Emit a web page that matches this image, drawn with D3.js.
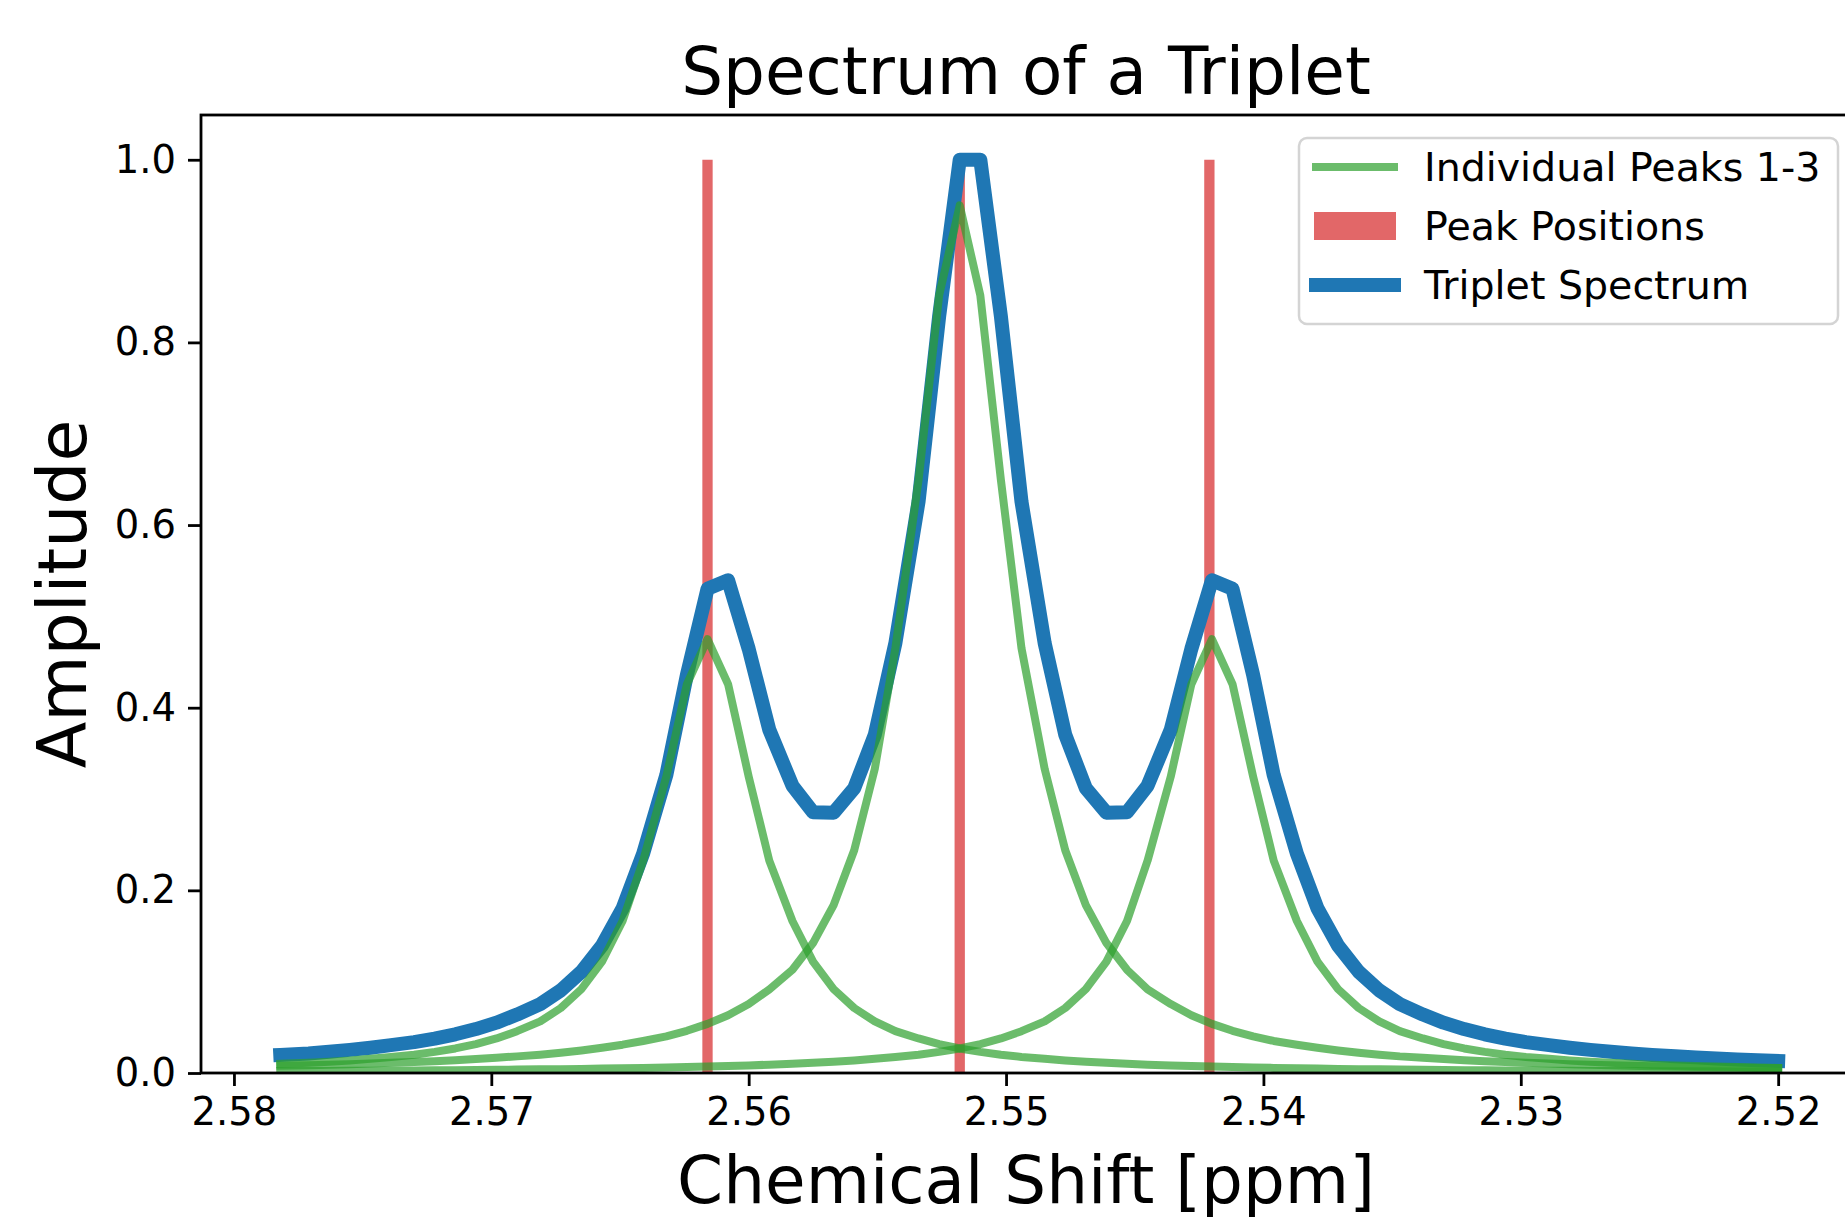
<!DOCTYPE html>
<html>
<head>
<meta charset="utf-8">
<script src="https://cdn.jsdelivr.net/npm/d3@7"></script>
<style>
  html, body { margin: 0; padding: 0; background: #fff; }
  svg { display: block; font-family: "DejaVu Sans", sans-serif; }
</style>
</head>
<body>
<svg id="chart" width="1845" height="1224"></svg>
<script>
// ---------------- data ----------------
const shiftPpm = [2.5782, 2.5771, 2.5763, 2.5755, 2.5747, 2.5739, 2.5730, 2.5722, 2.5714, 2.5706, 2.5698, 2.5690, 2.5681, 2.5673, 2.5665, 2.5657, 2.5649, 2.5641, 2.5632, 2.5624, 2.5616, 2.5608, 2.5600, 2.5592, 2.5583, 2.5575, 2.5567, 2.5559, 2.5551, 2.5543, 2.5534, 2.5526, 2.5518, 2.5510, 2.5502, 2.5494, 2.5485, 2.5477, 2.5469, 2.5461, 2.5453, 2.5445, 2.5436, 2.5428, 2.5420, 2.5412, 2.5404, 2.5396, 2.5387, 2.5379, 2.5371, 2.5363, 2.5355, 2.5347, 2.5338, 2.5330, 2.5322, 2.5314, 2.5306, 2.5298, 2.5289, 2.5281, 2.5273, 2.5265, 2.5257, 2.5249, 2.5240, 2.5232, 2.5224, 2.5216, 2.5208, 2.5200];

const peak1 = [0.0100, 0.0111, 0.0123, 0.0138, 0.0155, 0.0176, 0.0200, 0.0231, 0.0269, 0.0316, 0.0378, 0.0458, 0.0565, 0.0712, 0.0919, 0.1220, 0.1665, 0.2326, 0.3246, 0.4257, 0.4750, 0.4257, 0.3246, 0.2326, 0.1665, 0.1220, 0.0919, 0.0712, 0.0565, 0.0458, 0.0378, 0.0316, 0.0269, 0.0231, 0.0200, 0.0176, 0.0155, 0.0138, 0.0123, 0.0111, 0.0100, 0.0091, 0.0083, 0.0076, 0.0070, 0.0065, 0.0060, 0.0056, 0.0052, 0.0048, 0.0045, 0.0042, 0.0040, 0.0037, 0.0035, 0.0033, 0.0031, 0.0030, 0.0028, 0.0027, 0.0026, 0.0024, 0.0023, 0.0022, 0.0021, 0.0020, 0.0019, 0.0018, 0.0018, 0.0017, 0.0016, 0.0016];

const peak2 = [0.0079, 0.0085, 0.0090, 0.0097, 0.0104, 0.0111, 0.0120, 0.0129, 0.0140, 0.0153, 0.0167, 0.0182, 0.0201, 0.0222, 0.0247, 0.0276, 0.0310, 0.0351, 0.0401, 0.0462, 0.0538, 0.0633, 0.0755, 0.0915, 0.1130, 0.1423, 0.1838, 0.2439, 0.3330, 0.4652, 0.6493, 0.8514, 0.9500, 0.8514, 0.6493, 0.4652, 0.3330, 0.2439, 0.1838, 0.1423, 0.1130, 0.0915, 0.0755, 0.0633, 0.0538, 0.0462, 0.0401, 0.0351, 0.0310, 0.0276, 0.0247, 0.0222, 0.0201, 0.0182, 0.0167, 0.0153, 0.0140, 0.0129, 0.0120, 0.0111, 0.0104, 0.0097, 0.0090, 0.0085, 0.0079, 0.0075, 0.0070, 0.0067, 0.0063, 0.0060, 0.0056, 0.0054];

const peak3 = [0.0021, 0.0022, 0.0023, 0.0024, 0.0026, 0.0027, 0.0028, 0.0030, 0.0031, 0.0033, 0.0035, 0.0037, 0.0040, 0.0042, 0.0045, 0.0048, 0.0052, 0.0056, 0.0060, 0.0065, 0.0070, 0.0076, 0.0083, 0.0091, 0.0100, 0.0111, 0.0123, 0.0138, 0.0155, 0.0176, 0.0200, 0.0231, 0.0269, 0.0316, 0.0378, 0.0458, 0.0565, 0.0712, 0.0919, 0.1220, 0.1665, 0.2326, 0.3246, 0.4257, 0.4750, 0.4257, 0.3246, 0.2326, 0.1665, 0.1220, 0.0919, 0.0712, 0.0565, 0.0458, 0.0378, 0.0316, 0.0269, 0.0231, 0.0200, 0.0176, 0.0155, 0.0138, 0.0123, 0.0111, 0.0100, 0.0091, 0.0083, 0.0076, 0.0070, 0.0065, 0.0060, 0.0056];

// blue spectrum (normalised, drawn on the same ppm grid; its peaks sit a little right of the green ones)
const triplet = [0.0198, 0.0214, 0.0232, 0.0253, 0.0277, 0.0305, 0.0338, 0.0377, 0.0424, 0.0481, 0.0551, 0.0640, 0.0754, 0.0905, 0.1109, 0.1394, 0.1803, 0.2402, 0.3262, 0.4359, 0.5302, 0.5395, 0.4644, 0.3758, 0.3146, 0.2855, 0.2849, 0.3117, 0.3703, 0.4707, 0.6256, 0.8285, 1.0000, 1.0000, 0.8285, 0.6256, 0.4707, 0.3703, 0.3117, 0.2849, 0.2855, 0.3146, 0.3758, 0.4644, 0.5395, 0.5302, 0.4359, 0.3262, 0.2402, 0.1803, 0.1394, 0.1109, 0.0905, 0.0754, 0.0640, 0.0551, 0.0481, 0.0424, 0.0377, 0.0338, 0.0305, 0.0277, 0.0253, 0.0232, 0.0214, 0.0198, 0.0184, 0.0171, 0.0160, 0.0149, 0.0140, 0.0132];

const peakPositions = [2.5616, 2.5518, 2.5421];
const peakHeights = [1.0, 1.0, 1.0];
const peakBarWidth = 0.0004;

const xTicks = [2.58, 2.57, 2.56, 2.55, 2.54, 2.53, 2.52];
const yTicks = [0.0, 0.2, 0.4, 0.6, 0.8, 1.0];

const legendLabels = ["Individual Peaks 1-3", "Peak Positions", "Triplet Spectrum"];
const titleText = "Spectrum of a Triplet";
const xLabelText = "Chemical Shift [ppm]";
const yLabelText = "Amplitude";

// ---------------- layout ----------------
const svg = d3.select("#chart");
svg.append("rect").attr("width", 1845).attr("height", 1224).attr("fill", "#fff");

const axL = 201, axR = 1851, axT = 115, axB = 1073;
const x = d3.scaleLinear().domain([2.58128, 2.51717]).range([axL, axR]);
const y = d3.scaleLinear().domain([0, 1.049]).range([axB, axT]);

const green = "#2ca02c", red = "#d62728", blue = "#1f77b4";

const defs = svg.append("defs");
defs.append("clipPath").attr("id", "clip")
  .append("rect").attr("x", axL).attr("y", axT).attr("width", axR - axL).attr("height", axB - axT);

const plot = svg.append("g").attr("clip-path", "url(#clip)");

// red bars (peak positions)
plot.selectAll("rect.peakpos")
  .data(peakPositions.map((p, i) => ({p, h: peakHeights[i]})))
  .join("rect")
  .attr("class", "peakpos")
  .attr("x", d => x(d.p + peakBarWidth / 2))
  .attr("width", d => x(d.p - peakBarWidth / 2) - x(d.p + peakBarWidth / 2))
  .attr("y", d => y(d.h))
  .attr("height", d => y(0) - y(d.h))
  .attr("fill", red)
  .attr("fill-opacity", 0.7);

const line = d3.line().x(d => x(d[0])).y(d => y(d[1]));

const blueW = 14, greenW = 8;

// triplet spectrum
plot.append("path")
  .datum(shiftPpm.map((p, i) => [p, triplet[i]]))
  .attr("d", line)
  .attr("fill", "none")
  .attr("stroke", blue)
  .attr("stroke-width", blueW)
  .attr("stroke-linejoin", "round")
  .attr("stroke-linecap", "square");

// individual peaks
[peak1, peak2, peak3].forEach(arr => {
  plot.append("path")
    .datum(shiftPpm.map((p, i) => [p, arr[i]]))
    .attr("d", line)
    .attr("fill", "none")
    .attr("stroke", green)
    .attr("stroke-opacity", 0.7)
    .attr("stroke-width", greenW)
    .attr("stroke-linejoin", "round")
    .attr("stroke-linecap", "square");
});

// spines
svg.append("rect")
  .attr("x", axL).attr("y", axT).attr("width", axR - axL).attr("height", axB - axT)
  .attr("fill", "none").attr("stroke", "#000").attr("stroke-width", 2.8);

// axes
const tickFont = 38.5;
const xAxis = d3.axisBottom(x).tickValues(xTicks).tickFormat(d3.format(".2f"))
  .tickSize(13).tickPadding(12).tickSizeOuter(0);
const gx = svg.append("g").attr("transform", `translate(0,${axB})`).call(xAxis);
gx.select(".domain").remove();
gx.selectAll(".tick line").attr("stroke", "#000").attr("stroke-width", 2.8);
gx.selectAll(".tick text").attr("font-size", tickFont).attr("fill", "#000")
  .attr("font-family", "DejaVu Sans");

const yAxis = d3.axisLeft(y).tickValues(yTicks).tickFormat(d3.format(".1f"))
  .tickSize(13).tickPadding(12).tickSizeOuter(0);
const gy = svg.append("g").attr("transform", `translate(${axL},0)`).call(yAxis);
gy.select(".domain").remove();
gy.selectAll(".tick line").attr("stroke", "#000").attr("stroke-width", 2.8);
gy.selectAll(".tick text").attr("font-size", tickFont).attr("fill", "#000")
  .attr("font-family", "DejaVu Sans");

// title and labels
const cx = (axL + axR) / 2;
svg.append("text").attr("x", cx).attr("y", 94).attr("text-anchor", "middle")
  .attr("font-size", 66).attr("fill", "#000").text(titleText);
svg.append("text").attr("x", cx).attr("y", 1203).attr("text-anchor", "middle")
  .attr("font-size", 66).attr("fill", "#000").text(xLabelText);
svg.append("text")
  .attr("transform", `translate(86,${(axT + axB) / 2}) rotate(-90)`)
  .attr("text-anchor", "middle")
  .attr("font-size", 68).attr("fill", "#000").text(yLabelText);

// legend
const lg = svg.append("g");
lg.append("rect")
  .attr("x", 1299).attr("y", 138).attr("width", 539).attr("height", 186)
  .attr("rx", 8).attr("ry", 8)
  .attr("fill", "#fff").attr("fill-opacity", 0.8)
  .attr("stroke", "#d4d4d4").attr("stroke-width", 2.5);

const rowY = [167, 226, 285];
const hx0 = 1316, hx1 = 1394;
lg.append("line").attr("x1", hx0).attr("x2", hx1).attr("y1", rowY[0]).attr("y2", rowY[0])
  .attr("stroke", green).attr("stroke-opacity", 0.7).attr("stroke-width", greenW)
  .attr("stroke-linecap", "square");
lg.append("rect").attr("x", hx0 - 2).attr("y", rowY[1] - 14).attr("width", hx1 - hx0 + 4).attr("height", 28)
  .attr("fill", red).attr("fill-opacity", 0.7);
lg.append("line").attr("x1", hx0).attr("x2", hx1).attr("y1", rowY[2]).attr("y2", rowY[2])
  .attr("stroke", blue).attr("stroke-width", blueW)
  .attr("stroke-linecap", "square");

lg.selectAll("text.leg")
  .data(legendLabels)
  .join("text")
  .attr("class", "leg")
  .attr("x", 1424)
  .attr("y", (d, i) => rowY[i])
  .attr("dy", "0.36em")
  .attr("font-size", 39.5)
  .attr("fill", "#000")
  .text(d => d);
</script>
</body>
</html>
